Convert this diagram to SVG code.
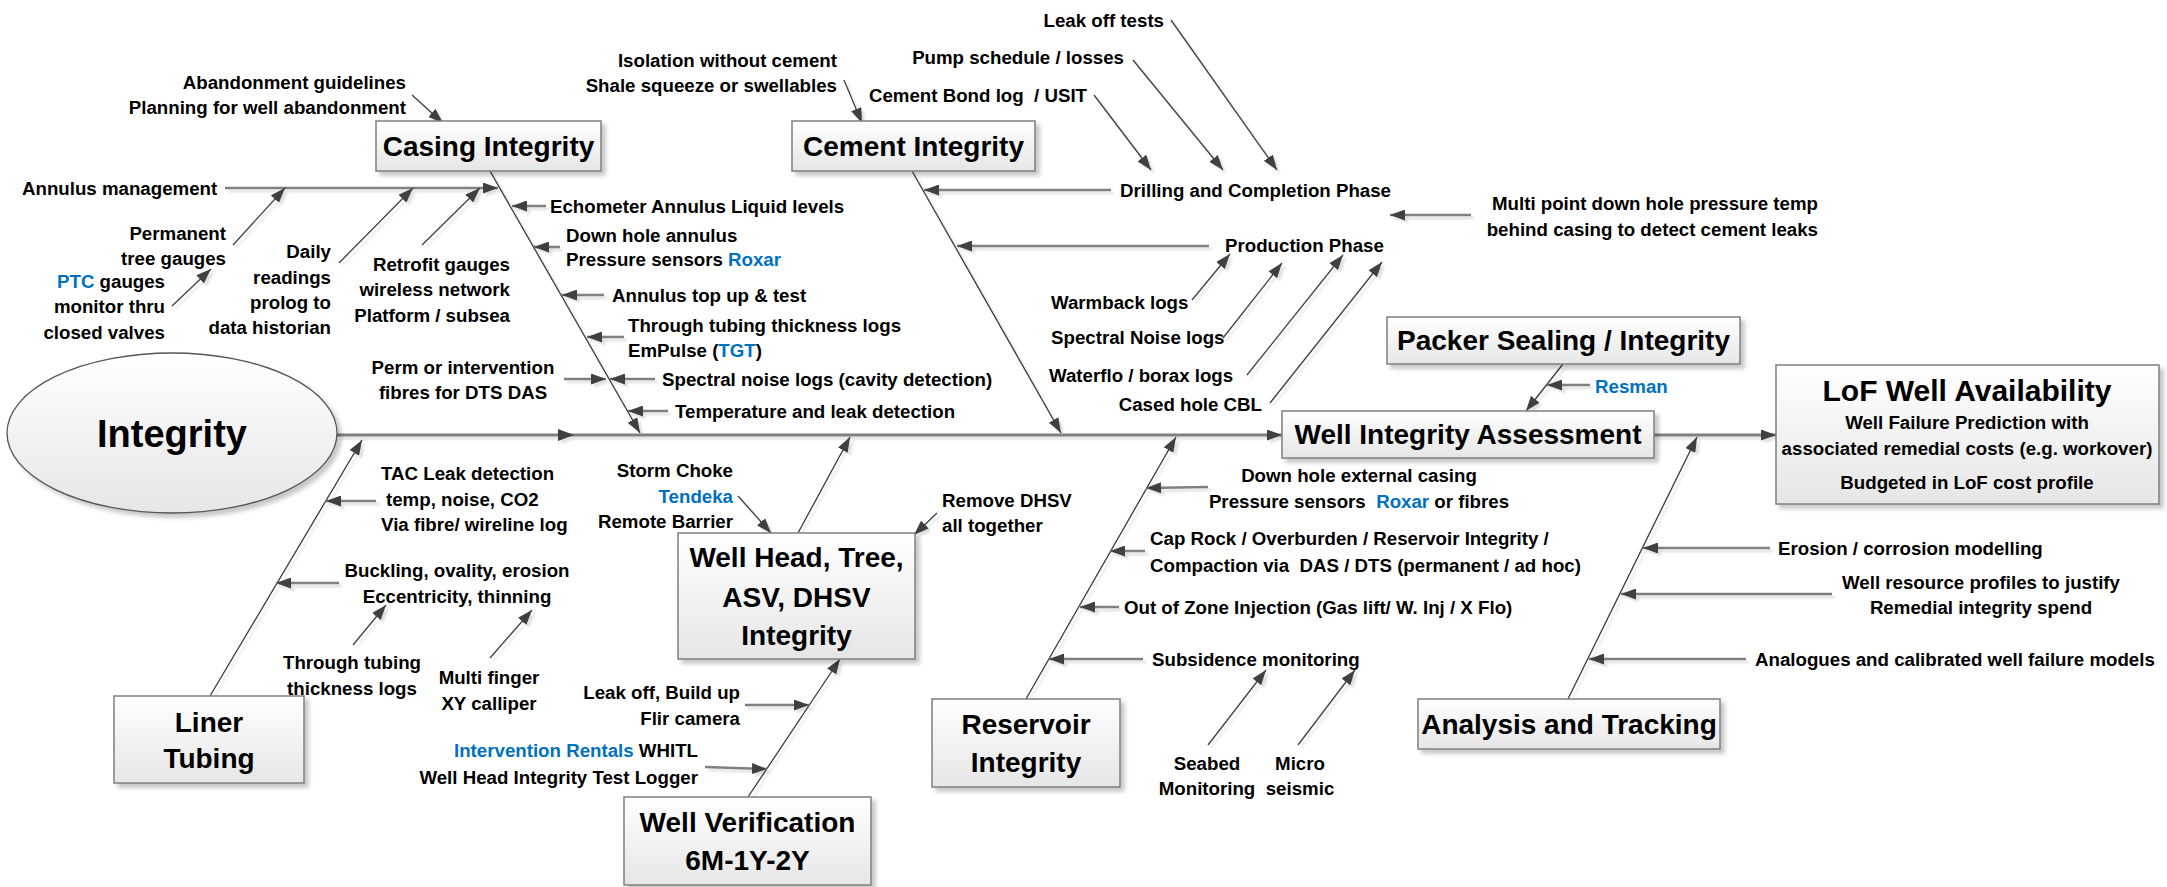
<svg xmlns="http://www.w3.org/2000/svg" width="2167" height="887" viewBox="0 0 2167 887">
<style>
.t{font-family:'Liberation Sans',Arial,sans-serif;font-weight:700;font-size:18.7px;fill:#000;white-space:pre}
.h{font-size:28px}
.m{text-anchor:middle}
.e{text-anchor:end}
.b{fill:#0070C0}
.box{fill:url(#g);stroke:#7f7f7f;stroke-width:1.5}
.br{stroke:#3a3a3a;stroke-width:1.3;fill:none;marker-end:url(#ah)}
.hz{stroke:#808080;stroke-width:2.6;fill:none;marker-end:url(#ah)}
.dg{stroke:#404040;stroke-width:1.3;fill:none;marker-end:url(#ah)}
.sp{stroke:#7f7f7f;stroke-width:3;fill:none;marker-end:url(#ah)}
</style>
<defs>
<linearGradient id="g" x1="0" y1="0" x2="0" y2="1"><stop offset="0" stop-color="#ffffff"/><stop offset="1" stop-color="#e6e6e6"/></linearGradient>
<filter id="sh" x="-10%" y="-10%" width="130%" height="140%"><feDropShadow dx="4" dy="4" stdDeviation="2" flood-color="#000" flood-opacity="0.22"/></filter>
<filter id="lsh" x="-10%" y="-10%" width="130%" height="130%"><feDropShadow dx="3" dy="3" stdDeviation="1" flood-color="#000" flood-opacity="0.12"/></filter>
<marker id="ah" viewBox="0 0 15 11" refX="15" refY="5.5" markerWidth="15" markerHeight="11" markerUnits="userSpaceOnUse" orient="auto"><path d="M0,0 L15,5.5 L0,11 z" fill="#404040"/></marker>
</defs>
<rect width="2167" height="887" fill="#fff"/>

<g id="connectors" filter="url(#lsh)">
<line class="sp" x1="337" y1="435" x2="1282" y2="435"/>
<polygon points="558,429 574,435 558,441" fill="#404040"/>
<line class="sp" x1="1654" y1="435" x2="1776" y2="435"/>
<line class="br" x1="490" y1="171" x2="640" y2="433"/>
<line class="br" x1="912" y1="171" x2="1061" y2="433"/>
<line class="br" x1="1563" y1="364" x2="1526" y2="411"/>
<line class="br" x1="210" y1="696" x2="362" y2="440"/>
<line class="br" x1="798" y1="533" x2="850" y2="437"/>
<line class="br" x1="748" y1="797" x2="840" y2="659"/>
<line class="br" x1="1026" y1="699" x2="1176" y2="437"/>
<line class="br" x1="1568" y1="699" x2="1697" y2="437"/>
<line class="dg" x1="412" y1="95" x2="443" y2="123"/>
<line class="hz" x1="225" y1="188" x2="498" y2="188"/>
<line class="dg" x1="233" y1="245" x2="285" y2="188"/>
<line class="dg" x1="172" y1="306" x2="211" y2="269"/>
<line class="dg" x1="339" y1="263" x2="413" y2="188"/>
<line class="dg" x1="422" y1="245" x2="480" y2="188"/>
<line class="hz" x1="546" y1="206" x2="512" y2="206"/>
<line class="hz" x1="560" y1="247" x2="534" y2="247"/>
<line class="hz" x1="604" y1="295" x2="562" y2="295"/>
<line class="hz" x1="624" y1="337" x2="587" y2="337"/>
<line class="hz" x1="655" y1="379" x2="610" y2="379"/>
<line class="hz" x1="564" y1="379" x2="606" y2="379"/>
<line class="hz" x1="668" y1="411" x2="628" y2="411"/>
<line class="dg" x1="844" y1="80" x2="862" y2="123"/>
<line class="dg" x1="1171" y1="20" x2="1277" y2="170"/>
<line class="dg" x1="1133" y1="60" x2="1223" y2="170"/>
<line class="dg" x1="1094" y1="95" x2="1151" y2="170"/>
<line class="hz" x1="1111" y1="190" x2="924" y2="190"/>
<line class="hz" x1="1209" y1="246" x2="957" y2="246"/>
<line class="hz" x1="1471" y1="215" x2="1390" y2="215"/>
<line class="dg" x1="1192" y1="300" x2="1230" y2="254"/>
<line class="dg" x1="1223" y1="338" x2="1282" y2="263"/>
<line class="dg" x1="1247" y1="375" x2="1343" y2="255"/>
<line class="dg" x1="1270" y1="403" x2="1382" y2="262"/>
<line class="hz" x1="1590" y1="385" x2="1547" y2="385"/>
<line class="hz" x1="376" y1="501" x2="326" y2="501"/>
<line class="hz" x1="339" y1="583" x2="276" y2="583"/>
<line class="dg" x1="353" y1="645" x2="386" y2="605"/>
<line class="dg" x1="490" y1="658" x2="532" y2="610"/>
<line class="dg" x1="738" y1="496" x2="771" y2="533"/>
<line class="dg" x1="937" y1="513" x2="914" y2="535"/>
<line class="hz" x1="745" y1="705" x2="809" y2="705"/>
<line class="hz" x1="705" y1="767" x2="767" y2="769"/>
<line class="hz" x1="1208" y1="487" x2="1146" y2="488"/>
<line class="hz" x1="1145" y1="551" x2="1110" y2="551"/>
<line class="hz" x1="1119" y1="607" x2="1080" y2="607"/>
<line class="hz" x1="1143" y1="659" x2="1049" y2="659"/>
<line class="dg" x1="1208" y1="745" x2="1266" y2="670"/>
<line class="dg" x1="1298" y1="745" x2="1355" y2="670"/>
<line class="hz" x1="1770" y1="548" x2="1643" y2="548"/>
<line class="hz" x1="1832" y1="594" x2="1621" y2="594"/>
<line class="hz" x1="1746" y1="659" x2="1589" y2="659"/>
</g>

<g id="integrity">
<ellipse cx="172" cy="433" rx="165" ry="80" fill="url(#g)" stroke="#555" stroke-width="1.3" filter="url(#sh)"/>
<text class="t m" x="172" y="447" style="font-size:38px">Integrity</text>
</g>
<g id="casing">
<rect class="box" x="376" y="121" width="225" height="50" filter="url(#sh)"/>
<text class="t h m" x="488.5" y="156">Casing Integrity</text>
</g>
<g id="cement">
<rect class="box" x="792" y="121" width="243" height="50" filter="url(#sh)"/>
<text class="t h m" x="913.5" y="156">Cement Integrity</text>
</g>
<g id="packer">
<rect class="box" x="1387" y="317" width="353" height="47" filter="url(#sh)"/>
<text class="t h m" x="1563.5" y="350">Packer Sealing / Integrity</text>
</g>
<g id="wia">
<rect class="box" x="1282" y="411" width="372" height="47" filter="url(#sh)"/>
<text class="t h m" x="1468" y="444">Well Integrity Assessment</text>
</g>
<g id="lof">
<rect class="box" x="1776" y="365" width="383" height="139" filter="url(#sh)"/>
<text class="t m" x="1967" y="401" style="font-size:30px">LoF Well Availability</text>
<text class="t m" x="1967" y="429">Well Failure Prediction with</text>
<text class="t m" x="1967" y="455">associated remedial costs (e.g. workover)</text>
<text class="t m" x="1967" y="489">Budgeted in LoF cost profile</text>
</g>
<g id="liner">
<rect class="box" x="114" y="696" width="190" height="87" filter="url(#sh)"/>
<text class="t h m" x="209" y="732">Liner</text>
<text class="t h m" x="209" y="768">Tubing</text>
</g>
<g id="wellhead">
<rect class="box" x="678" y="533" width="237" height="126" filter="url(#sh)"/>
<text class="t h m" x="796.5" y="567">Well Head, Tree,</text>
<text class="t h m" x="796.5" y="607">ASV, DHSV</text>
<text class="t h m" x="796.5" y="645">Integrity</text>
</g>
<g id="verification">
<rect class="box" x="624" y="797" width="247" height="88" filter="url(#sh)"/>
<text class="t h m" x="747.5" y="832">Well Verification</text>
<text class="t h m" x="747.5" y="870">6M-1Y-2Y</text>
</g>
<g id="reservoir">
<rect class="box" x="932" y="699" width="188" height="88" filter="url(#sh)"/>
<text class="t h m" x="1026" y="734">Reservoir</text>
<text class="t h m" x="1026" y="772">Integrity</text>
</g>
<g id="analysis">
<rect class="box" x="1418" y="699" width="302" height="50" filter="url(#sh)"/>
<text class="t h m" x="1569" y="734">Analysis and Tracking</text>
</g>

<g id="casing-causes">
<text class="t e" x="406" y="89">Abandonment guidelines</text>
<text class="t e" x="406" y="114">Planning for well abandonment</text>
<text class="t" x="22" y="195">Annulus management</text>
<text class="t e" x="226" y="240">Permanent</text>
<text class="t e" x="226" y="265">tree gauges</text>
<text class="t e" x="165" y="288"><tspan class="b">PTC</tspan> gauges</text>
<text class="t e" x="165" y="313">monitor thru</text>
<text class="t e" x="165" y="339">closed valves</text>
<text class="t e" x="331" y="258">Daily</text>
<text class="t e" x="331" y="284">readings</text>
<text class="t e" x="331" y="309">prolog to</text>
<text class="t e" x="331" y="334">data historian</text>
<text class="t e" x="510" y="271">Retrofit gauges</text>
<text class="t e" x="510" y="296">wireless network</text>
<text class="t e" x="510" y="322">Platform / subsea</text>
<text class="t" x="550" y="213">Echometer Annulus Liquid levels</text>
<text class="t" x="566" y="242">Down hole annulus</text>
<text class="t" x="566" y="266">Pressure sensors <tspan class="b">Roxar</tspan></text>
<text class="t" x="612" y="302">Annulus top up &amp; test</text>
<text class="t" x="628" y="332">Through tubing thickness logs</text>
<text class="t" x="628" y="357">EmPulse (<tspan class="b">TGT</tspan>)</text>
<text class="t" x="662" y="386">Spectral noise logs (cavity detection)</text>
<text class="t m" x="463" y="374">Perm or intervention</text>
<text class="t m" x="463" y="399">fibres for DTS DAS</text>
<text class="t" x="675" y="418">Temperature and leak detection</text>
</g>

<g id="cement-causes">
<text class="t e" x="837" y="67">Isolation without cement</text>
<text class="t e" x="837" y="92">Shale squeeze or swellables</text>
<text class="t e" x="1164" y="27">Leak off tests</text>
<text class="t e" x="1124" y="64">Pump schedule / losses</text>
<text class="t e" x="1087" y="102">Cement Bond log  / USIT</text>
<text class="t" x="1120" y="197">Drilling and Completion Phase</text>
<text class="t" x="1225" y="252">Production Phase</text>
<text class="t e" x="1818" y="210">Multi point down hole pressure temp</text>
<text class="t e" x="1818" y="236">behind casing to detect cement leaks</text>
<text class="t" x="1051" y="309">Warmback logs</text>
<text class="t" x="1051" y="344">Spectral Noise logs</text>
<text class="t" x="1049" y="382">Waterflo / borax logs</text>
<text class="t e" x="1262" y="411">Cased hole CBL</text>
</g>

<g id="packer-causes">
<text class="t b" x="1595" y="393">Resman</text>
</g>

<g id="liner-causes">
<text class="t" x="381" y="480">TAC Leak detection</text>
<text class="t" x="386" y="506">temp, noise, CO2</text>
<text class="t" x="381" y="531">Via fibre/ wireline log</text>
<text class="t m" x="457" y="577">Buckling, ovality, erosion</text>
<text class="t m" x="457" y="603">Eccentricity, thinning</text>
<text class="t m" x="352" y="669">Through tubing</text>
<text class="t m" x="352" y="695">thickness logs</text>
<text class="t m" x="489" y="684">Multi finger</text>
<text class="t m" x="489" y="710">XY calliper</text>
</g>

<g id="wellhead-causes">
<text class="t e" x="733" y="477">Storm Choke</text>
<text class="t e b" x="733" y="503">Tendeka</text>
<text class="t e" x="733" y="528">Remote Barrier</text>
<text class="t" x="942" y="507">Remove DHSV</text>
<text class="t" x="942" y="532">all together</text>
<text class="t e" x="740" y="699">Leak off, Build up</text>
<text class="t e" x="740" y="725">Flir camera</text>
<text class="t e" x="698" y="757"><tspan class="b">Intervention Rentals</tspan> WHITL</text>
<text class="t e" x="698" y="784">Well Head Integrity Test Logger</text>
</g>

<g id="reservoir-causes">
<text class="t m" x="1359" y="482">Down hole external casing</text>
<text class="t m" x="1359" y="508">Pressure sensors  <tspan class="b">Roxar</tspan> or fibres</text>
<text class="t" x="1150" y="545">Cap Rock / Overburden / Reservoir Integrity /</text>
<text class="t" x="1150" y="572">Compaction via  DAS / DTS (permanent / ad hoc)</text>
<text class="t" x="1124" y="614">Out of Zone Injection (Gas lift/ W. Inj / X Flo)</text>
<text class="t" x="1152" y="666">Subsidence monitoring</text>
<text class="t m" x="1207" y="770">Seabed</text>
<text class="t m" x="1207" y="795">Monitoring</text>
<text class="t m" x="1300" y="770">Micro</text>
<text class="t m" x="1300" y="795">seismic</text>
</g>

<g id="analysis-causes">
<text class="t" x="1778" y="555">Erosion / corrosion modelling</text>
<text class="t m" x="1981" y="589">Well resource profiles to justify</text>
<text class="t m" x="1981" y="614">Remedial integrity spend</text>
<text class="t" x="1755" y="666">Analogues and calibrated well failure models</text>
</g>
</svg>
